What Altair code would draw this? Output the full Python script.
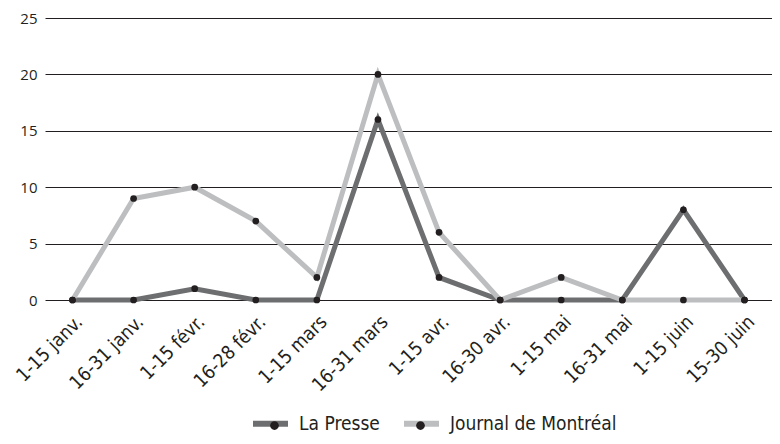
import altair as alt
import pandas as pd

periods = ["1-15 janv.", "16-31 janv.", "1-15 févr.", "16-28 févr.", "1-15 mars", "16-31 mars",
           "1-15 avr.", "16-30 avr.", "1-15 mai", "16-31 mai", "1-15 juin", "15-30 juin"]
la_presse = [0, 0, 1, 0, 0, 16, 2, 0, 0, 0, 8, 0]
journal = [0, 9, 10, 7, 2, 20, 6, 0, 2, 0, 0, 0]
series = ["La Presse", "Journal de Montréal"]
# tagged names, so the dot legend is kept apart from the line legend
series_dot = [s + "|dot" for s in series]

rows = []
for i, p in enumerate(periods):
    rows.append({"period": p, "value": la_presse[i], "series": series[0],
                 "series_dot": series_dot[0], "order": 0})
    rows.append({"period": p, "value": journal[i], "series": series[1],
                 "series_dot": series_dot[1], "order": 1})
df = pd.DataFrame(rows)

cond = "DejaVu Sans Condensed, Liberation Sans Narrow, sans-serif"
LEG_X, LEG_Y = 205, 385
SYM = 1225  # 35 px wide legend symbol
DOT = "M-0.25,0A0.25,0.25 0 1,1 0.25,0A0.25,0.25 0 1,1 -0.25,0Z"
LEG_COMMON = dict(orient="none", legendX=LEG_X, direction="horizontal",
                  symbolSize=SYM, symbolStrokeWidth=6, labelFont=cond, labelFontSize=19,
                  columnPadding=12, labelOffset=8, labelLimit=400, title=None)

x = alt.X("period:N", sort=periods, title=None,
          scale=alt.Scale(type="point", padding=0.45),
          axis=alt.Axis(labelAngle=-45, labelFont=cond, labelFontSize=19, labelColor="#231f20",
                        domain=False, ticks=False, grid=False, labelPadding=12,
                        labelAlign="right", labelBaseline="top"))
y = alt.Y("value:Q", title=None,
          scale=alt.Scale(domain=[0, 25]),
          axis=alt.Axis(values=[0, 5, 10, 15, 20, 25], labelFont="Open Sans", labelFontSize=15,
                        labelColor="#231f20", domain=False, ticks=False, labelPadding=8,
                        grid=True, gridColor="#231f20", gridWidth=1, gridOpacity=1))
color = alt.Color("series:N", sort=series, title=None,
                  scale=alt.Scale(domain=series, range=["#6d6e70", "#bcbec0"]),
                  legend=alt.Legend(symbolType="stroke", labelColor="#231f20",
                                    legendY=LEG_Y, **LEG_COMMON))
dot = alt.Opacity("series_dot:N", sort=series_dot, title=None,
                  scale=alt.Scale(domain=series_dot, range=[1, 1]),
                  legend=alt.Legend(symbolType=DOT, symbolFillColor="#231f20",
                                    symbolStrokeColor="transparent", symbolOffset=4,
                                    labelExpr="replace(datum.label, '|dot', '')",
                                    legendY=LEG_Y + 2,
                                    symbolOpacity=1, labelOpacity=0, **LEG_COMMON))

lines = alt.Chart(df).mark_line(strokeWidth=5).encode(
    x=x, y=y, color=color, detail="series:N", order="order:Q")
points = alt.Chart(df).mark_circle(size=45, color="#231f20").encode(
    x=x, y=y, opacity=dot, detail="series:N")

chart = alt.layer(lines, points).properties(
    width=727, height=282,
    autosize=alt.AutoSizeParams(type="none"),
    padding={"left": 37, "top": 10, "right": 0, "bottom": 136}
).configure_view(stroke=None)

chart.save("out.html", embed_options={"renderer": "svg", "actions": False})
